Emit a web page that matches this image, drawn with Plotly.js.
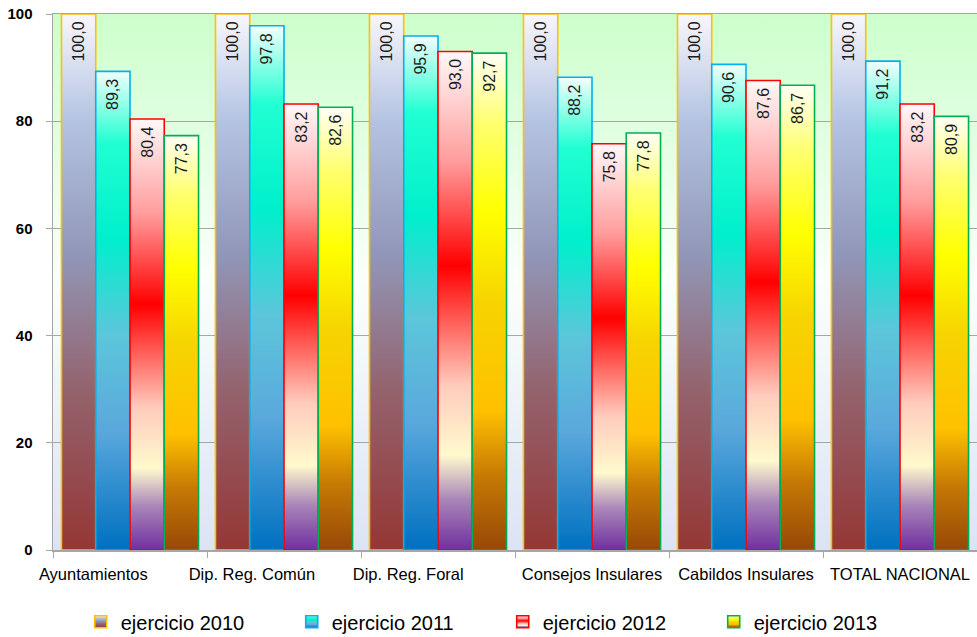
<!DOCTYPE html>
<html>
<head>
<meta charset="utf-8">
<script src="https://cdn.plot.ly/plotly-3.0.1.min.js"></script>
<style>
  html, body { margin: 0; padding: 0; background: #ffffff; }
  #chart { width: 977px; height: 637px; }
</style>
</head>
<body>
<div id="chart"></div>
<script>
// ---- data ----
const categories = ['Ayuntamientos', 'Dip. Reg. Común', 'Dip. Reg. Foral', 'Consejos Insulares', 'Cabildos Insulares', 'TOTAL NACIONAL'];
const seriesNames = ['ejercicio 2010', 'ejercicio 2011', 'ejercicio 2012', 'ejercicio 2013'];
const ejercicio2010 = [100.0, 100.0, 100.0, 100.0, 100.0, 100.0];
const ejercicio2011 = [89.3, 97.8, 95.9, 88.2, 90.6, 91.2];
const ejercicio2012 = [80.4, 83.2, 93.0, 75.8, 87.6, 83.2];
const ejercicio2013 = [77.3, 82.6, 92.7, 77.8, 86.7, 80.9];
const yTicks = [0, 20, 40, 60, 80, 100];

// ---- styles ----
const outlineColors = ['#FFC000', '#00B0F0', '#FF0000', '#00B050'];
const gradients = [
  [[0, '#953735'], [0.3, '#94636e'], [0.55, '#9196b8'], [0.8, '#b4c3e2'], [1, '#f7f7fc']],
  [[0, '#0070C0'], [0.25, '#5aa8dc'], [0.45, '#5cc6da'], [0.65, '#00efcc'], [0.85, '#20ffd2'], [1, '#f2fffc']],
  [[0, '#7030A0'], [0.1, '#a884b8'], [0.19, '#fffacd'], [0.33, '#ffcbbd'], [0.57, '#ff0000'], [0.78, '#ff9c9c'], [0.92, '#ffd8d8'], [1, '#fff8f8']],
  [[0, '#984807'], [0.15, '#c67a04'], [0.28, '#ffc000'], [0.5, '#f6d400'], [0.68, '#ffff00'], [0.86, '#ffff70'], [1, '#fffff6']]
];
const bgGradient = [[0, '#ccffcc'], [0.5, '#fbfffb'], [1, '#dce3f4']];
const labelPad = [16, 14, 13, 0, 0, 0]; // trailing spacing that offsets the first three labels, as in the source

const font = 'Liberation Sans, Arial, sans-serif';
const values = [ejercicio2010, ejercicio2011, ejercicio2012, ejercicio2013];

const traces = values.map((v, i) => ({
  type: 'bar',
  name: seriesNames[i],
  x: categories,
  y: v,
  marker: { color: gradients[i][2][1], line: { color: outlineColors[i], width: 1.6 } },
  texttemplate: '%{y:.1f}\u00a0',
  textposition: 'inside',
  insidetextanchor: 'end',
  textangle: -90,
  constraintext: 'none',
  textfont: { family: font, size: 16, color: '#1a1a1a' },
  hoverinfo: 'skip'
}));

const tickLabels = categories.map((c, i) => c + '\u00a0'.repeat(labelPad[i]));

const layout = {
  width: 977,
  height: 637,
  margin: { l: 53, r: 0, t: 14, b: 87 },
  paper_bgcolor: '#ffffff',
  plot_bgcolor: '#eef6ee',
  separators: ',.',
  barmode: 'group',
  bargap: 0.11,
  bargroupgap: 0,
  showlegend: true,
  legend: {
    orientation: 'h',
    x: 0.03, xanchor: 'left',
    yref: 'container', y: 0.024, yanchor: 'middle',
    entrywidth: 166, entrywidthmode: 'pixels',
    font: { family: font, size: 20, color: '#000000' },
    traceorder: 'normal'
  },
  xaxis: {
    type: 'category',
    tickvals: categories,
    ticktext: tickLabels,
    tickangle: 0,
    tickson: 'boundaries',
    ticks: 'outside',
    ticklen: 6,
    tickcolor: '#a6a6a6',
    showline: true,
    mirror: true,
    linecolor: '#a6a6a6',
    linewidth: 1.5,
    showgrid: false,
    tickfont: { family: font, size: 16.5, color: '#000000' },
    ticklabelstandoff: 9,
    fixedrange: true
  },
  yaxis: {
    range: [0, 100],
    tickvals: yTicks,
    ticks: 'outside',
    ticklen: 6,
    tickcolor: '#a6a6a6',
    showline: true,
    linecolor: '#a6a6a6',
    linewidth: 1.5,
    showgrid: true,
    gridcolor: '#a6a6a6',
    gridwidth: 1,
    zeroline: false,
    tickfont: { family: font, size: 15, color: '#000000', weight: 'bold' },
    ticklabelstandoff: 10,
    fixedrange: true
  }
};

function makeGradient(doc, defs, id, stops) {
  const ns = 'http://www.w3.org/2000/svg';
  let g = doc.getElementById(id);
  if (g) g.remove();
  g = doc.createElementNS(ns, 'linearGradient');
  g.setAttribute('id', id);
  g.setAttribute('x1', '0'); g.setAttribute('y1', '1');
  g.setAttribute('x2', '0'); g.setAttribute('y2', '0');
  stops.forEach(s => {
    const st = doc.createElementNS(ns, 'stop');
    st.setAttribute('offset', s[0]);
    st.setAttribute('stop-color', s[1]);
    g.appendChild(st);
  });
  defs.appendChild(g);
}

function applyGradients() {
  const gd = document.getElementById('chart');
  const svg = gd.querySelector('svg.main-svg');
  if (!svg) return;
  let defs = svg.querySelector('defs');
  if (!defs) { defs = document.createElementNS('http://www.w3.org/2000/svg', 'defs'); svg.insertBefore(defs, svg.firstChild); }
  gradients.forEach((st, i) => makeGradient(document, defs, 'barGrad' + i, st));
  makeGradient(document, defs, 'bgGrad', bgGradient.map(s => [1 - s[0], s[1]]).reverse());
  const bg = svg.querySelector('.bglayer rect.bg');
  if (bg) bg.style.fill = 'url(#bgGrad)';
  const barTraces = svg.querySelectorAll('.barlayer .trace');
  barTraces.forEach((t, i) => {
    t.querySelectorAll('path').forEach(p => { p.style.fill = 'url(#barGrad' + i + ')'; });
  });
  const legTraces = gd.querySelectorAll('.legend .traces');
  legTraces.forEach((t, i) => {
    t.querySelectorAll('.legendpoints path').forEach(p => { p.style.fill = 'url(#barGrad' + i + ')'; });
  });
}

Plotly.newPlot('chart', traces, layout, { staticPlot: true, displayModeBar: false }).then(applyGradients);
</script>
</body>
</html>
